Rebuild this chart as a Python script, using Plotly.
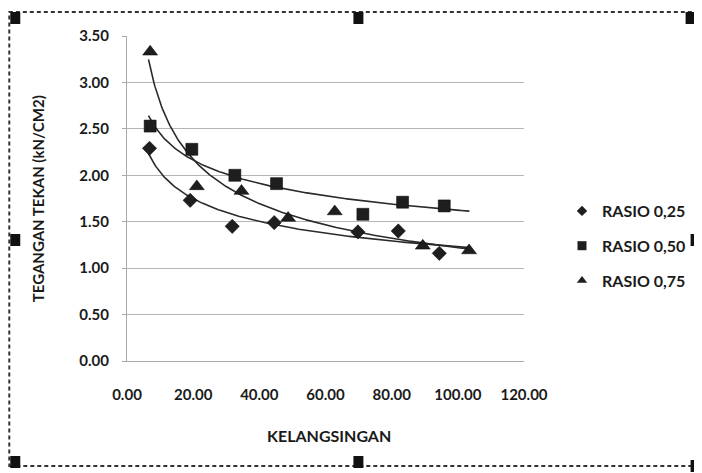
import numpy as np
import plotly.graph_objects as go

# ---- data ----
x_r025 = [6.8, 19.1, 31.8, 44.5, 69.8, 82.0, 94.4]
y_r025 = [2.29, 1.73, 1.45, 1.49, 1.39, 1.40, 1.16]

x_r050 = [7.0, 19.6, 32.6, 45.2, 71.3, 83.3, 95.9]
y_r050 = [2.53, 2.28, 2.00, 1.91, 1.58, 1.71, 1.67]

x_r075 = [7.0, 21.1, 34.6, 48.7, 62.8, 89.4, 103.4]
y_r075 = [3.33, 1.88, 1.83, 1.54, 1.61, 1.24, 1.19]

names = ["RASIO 0,25", "RASIO 0,50", "RASIO 0,75"]
x_ticks = [0, 20, 40, 60, 80, 100, 120]
y_ticks = [0, 0.5, 1.0, 1.5, 2.0, 2.5, 3.0, 3.5]

# ---- layout geometry (page pixels; page body has an 8px margin) ----
OFF = 8
PAGE_W, PAGE_H = 702, 473
W, H = PAGE_W - OFF, PAGE_H - OFF
L, R, T, B = 127, 525, 36, 361
PW, PH = R - L, B - T

def px(xp):
    return (xp - L) / PW

def py(yp):
    return (B - yp) / PH

FONT = "Lato, 'Open Sans', sans-serif"
INK = "#1e1e1e"
TXT = "#1a1a1a"

fig = go.Figure()

series = [
    (x_r025, y_r025, "diamond", 11, 8),
    (x_r050, y_r050, "square", 12, 9),
    (x_r075, y_r075, "triangle-up", 13, 9),
]

# power trendlines fitted from the data
for xs, ys, sym, sz, lsz in series:
    b, ln_a = np.polyfit(np.log(xs), np.log(ys), 1)
    xx = np.linspace(6.5, 103.5, 300)
    fig.add_trace(go.Scatter(x=xx, y=np.exp(ln_a) * xx ** b, mode="lines",
                             line=dict(color="#2a2a2a", width=1.6),
                             showlegend=False, hoverinfo="skip"))

for i, (xs, ys, sym, sz, lsz) in enumerate(series):
    fig.add_trace(go.Scatter(x=xs, y=ys, mode="markers", name=names[i],
                             showlegend=False,
                             marker=dict(symbol=sym, size=sz, color=INK,
                                         line=dict(color="#000", width=0.5))))
    # legend entry with a small symbol
    fig.add_trace(go.Scatter(x=[None], y=[None], mode="markers", name=names[i],
                             legendgroup=names[i],
                             marker=dict(symbol=sym, size=lsz, color=INK)))

shapes = []
# dashed selection frame
shapes.append(dict(type="rect", xref="paper", yref="paper",
                   x0=px(9), x1=px(699), y0=py(466), y1=py(12),
                   line=dict(color="#333", width=2, dash="4px,3px")))
# handles
handles = [(15, 18), (359, 18), (692, 18), (15, 240), (697, 240),
           (15, 462), (359, 462), (697, 466)]
for hx, hy in handles:
    shapes.append(dict(type="rect", xref="paper", yref="paper",
                       x0=px(hx - 5), x1=px(hx + 5), y0=py(hy + 6), y1=py(hy - 6),
                       fillcolor="#111", line=dict(width=0)))

fig.update_layout(
    width=W, height=H,
    margin=dict(l=L - OFF, r=PAGE_W - R, t=T - OFF, b=PAGE_H - B),
    paper_bgcolor="white", plot_bgcolor="white",
    font=dict(family=FONT, size=15, color=TXT),
    shapes=shapes,
    legend=dict(x=px(562), y=py(194), xanchor="left", yanchor="top",
                font=dict(family=FONT, size=16, color=TXT, weight="bold"),
                tracegroupgap=11, bgcolor="rgba(0,0,0,0)"),
    annotations=[
        dict(text="TEGANGAN TEKAN (kN/CM2)", xref="paper", yref="paper",
             x=px(38), y=py(199), textangle=-90, showarrow=False,
             xanchor="center", yanchor="middle",
             font=dict(family=FONT, size=15, color=TXT, weight="bold")),
        dict(text="KELANGSINGAN", xref="paper", yref="paper",
             x=px(330), y=py(435), showarrow=False,
             xanchor="center", yanchor="middle",
             font=dict(family=FONT, size=16, color=TXT, weight="bold")),
    ],
)

fig.update_xaxes(range=[0, 120], tickvals=x_ticks, tickformat=".2f",
                 showgrid=False, zeroline=False, showline=True,
                 linecolor="#aaa", linewidth=1, ticks="",
                 ticklabelstandoff=20,
                 tickfont=dict(family=FONT, size=15, color=TXT, weight="bold"))
fig.update_yaxes(range=[0, 3.5], tickvals=y_ticks, tickformat=".2f",
                 showgrid=True, gridcolor="#b5b5b5", gridwidth=1,
                 zeroline=False, showline=True, linecolor="#aaa", linewidth=1,
                 ticks="outside", ticklen=4, tickcolor="#aaa",
                 ticklabelstandoff=10,
                 tickfont=dict(family=FONT, size=15, color=TXT, weight="bold"))

fig.write_html("out.html")
